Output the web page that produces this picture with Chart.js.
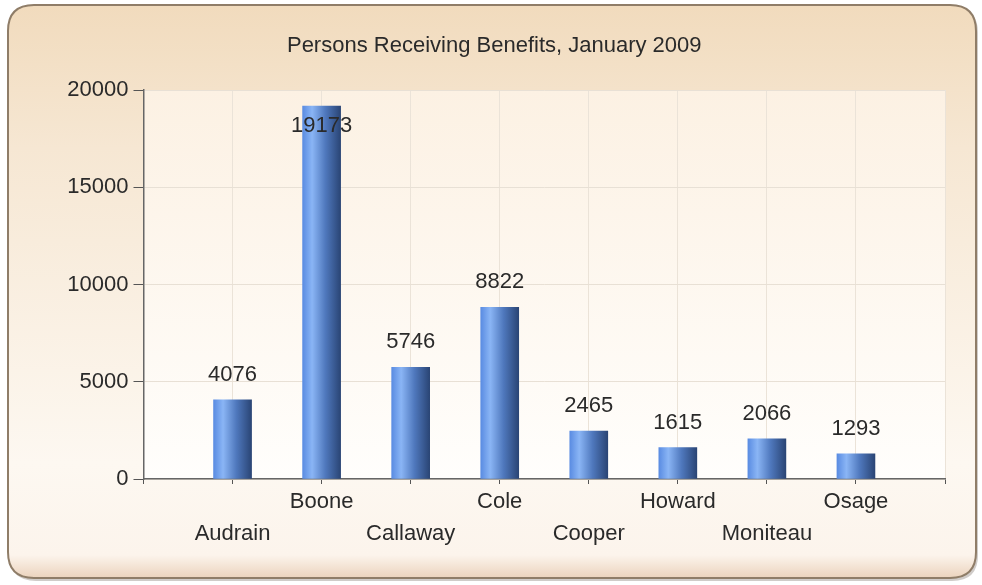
<!DOCTYPE html>
<html>
<head>
<meta charset="utf-8">
<script src="https://cdn.jsdelivr.net/npm/chart.js@4"></script>
<style>
  html, body { margin: 0; padding: 0; background: #fff; }
  #chart { display: block; }
</style>
</head>
<body>
<canvas id="chart" width="982" height="585"></canvas>
<script>
const counties = ['Audrain', 'Boone', 'Callaway', 'Cole', 'Cooper', 'Howard', 'Moniteau', 'Osage'];
const persons = [4076, 19173, 5746, 8822, 2465, 1615, 2066, 1293];
const yTicks = [0, 5000, 10000, 15000, 20000];
const chartTitle = 'Persons Receiving Benefits, January 2009';

// one empty slot at each end, so the bars sit on grid lines like the original
const labels = [''].concat(counties, ['']);
const values = [null].concat(persons, [null]);

const FONT = '"Liberation Sans", Arial, sans-serif';
const ctx = document.getElementById('chart').getContext('2d');

function roundRect(c, x, y, w, h, r) {
    c.beginPath();
    c.moveTo(x + r, y);
    c.lineTo(x + w - r, y);
    c.quadraticCurveTo(x + w, y, x + w, y + r);
    c.lineTo(x + w, y + h - r);
    c.quadraticCurveTo(x + w, y + h, x + w - r, y + h);
    c.lineTo(x + r, y + h);
    c.quadraticCurveTo(x, y + h, x, y + h - r);
    c.lineTo(x, y + r);
    c.quadraticCurveTo(x, y, x + r, y);
    c.closePath();
}

const backdrop = {
    id: 'backdrop',
    beforeDraw(chart) {
        const c = chart.ctx;
        const a = chart.chartArea;
        c.save();
        // soft shadow under the frame
        roundRect(c, 10, 7, 968, 574, 26);
        c.fillStyle = 'rgba(120,110,100,0.35)';
        c.fill();
        // outer rounded frame
        const g = c.createLinearGradient(0, 5, 0, 578);
        g.addColorStop(0, '#f1dbbd');
        g.addColorStop(0.25, '#f6e7d3');
        g.addColorStop(0.8, '#fdf8f1');
        g.addColorStop(0.96, '#fcf4ec');
        g.addColorStop(1, '#ebd3bd');
        roundRect(c, 8, 5, 968, 573, 26);
        c.fillStyle = g;
        c.fill();
        c.lineWidth = 2;
        c.strokeStyle = '#8f7d68';
        c.stroke();
        // plot area
        const p = c.createLinearGradient(0, a.top, 0, a.bottom);
        p.addColorStop(0, '#fcf1e3');
        p.addColorStop(1, '#fffefc');
        c.fillStyle = p;
        c.fillRect(a.left, a.top, a.right - a.left, a.bottom - a.top);
        c.restore();
    }
};

const valueLabels = {
    id: 'valueLabels',
    afterDatasetsDraw(chart) {
        const c = chart.ctx;
        const top = chart.chartArea.top;
        c.save();
        c.font = '22px ' + FONT;
        c.fillStyle = '#2a2a2a';
        c.textAlign = 'center';
        c.textBaseline = 'middle';
        chart.getDatasetMeta(0).data.forEach((bar, i) => {
            const v = values[i];
            if (v == null) return;
            let y = bar.y - 25;
            if (y - 12 < top) y = bar.y + 20;
            c.fillText(String(v), bar.x, y);
        });
        c.restore();
    }
};

function barGradient(context) {
    const chart = context.chart;
    const xs = chart.scales.x;
    const cx = xs ? xs.getPixelForValue(context.dataIndex) : NaN;
    if (!isFinite(cx)) return '#4f7fc8';
    const g = chart.ctx.createLinearGradient(cx - 19, 0, cx + 19, 0);
    g.addColorStop(0, '#5a8ce2');
    g.addColorStop(0.25, '#8ab5f5');
    g.addColorStop(0.6, '#4f78bd');
    g.addColorStop(1, '#2a4575');
    return g;
}

let chart = new Chart(ctx, {
    type: 'bar',
    data: {
        labels: labels,
        datasets: [{
            data: values,
            backgroundColor: barGradient,
            borderWidth: 0,
            barThickness: 38
        }]
    },
    options: {
        responsive: false,
        animation: false,
        layout: {
            padding: { left: 43.5, right: 37, top: 0, bottom: 20 }
        },
        plugins: {
            legend: { display: false },
            tooltip: { enabled: false },
            title: {
                display: true,
                text: chartTitle,
                color: '#2a2a2a',
                font: { family: FONT, size: 22, weight: 'normal', lineHeight: 1.2 },
                padding: { top: 32.8, bottom: 30.8 }
            }
        },
        scales: {
            x: {
                offset: false,
                grid: {
                    offset: false,
                    color: '#ebe3d8',
                    tickColor: '#555',
                    tickLength: 5
                },
                border: { color: '#666', width: 1.5 },
                ticks: {
                    autoSkip: false,
                    maxRotation: 0,
                    minRotation: 0,
                    padding: 2,
                    color: '#2a2a2a',
                    font: { family: FONT, size: 22, lineHeight: 32 / 22 },
                    callback: (val, i) => {
                        const name = labels[i];
                        // every other county drops to a second row
                        return (i % 2 === 1) ? ['', name] : name;
                    }
                },
                afterFit: s => { s.height = 86; }
            },
            y: {
                min: 0,
                max: 20000,
                grid: {
                    color: '#e8e0d5',
                    tickColor: '#555',
                    tickLength: 10
                },
                border: { color: '#666', width: 1.5 },
                afterBuildTicks: s => { s.ticks = yTicks.map(v => ({ value: v })); },
                ticks: {
                    padding: 5,
                    color: '#2a2a2a',
                    font: { family: FONT, size: 22 },
                    callback: v => String(v)
                },
                afterFit: s => { s.width = 100; }
            }
        }
    },
    plugins: [backdrop, valueLabels]
});
</script>
</body>
</html>
